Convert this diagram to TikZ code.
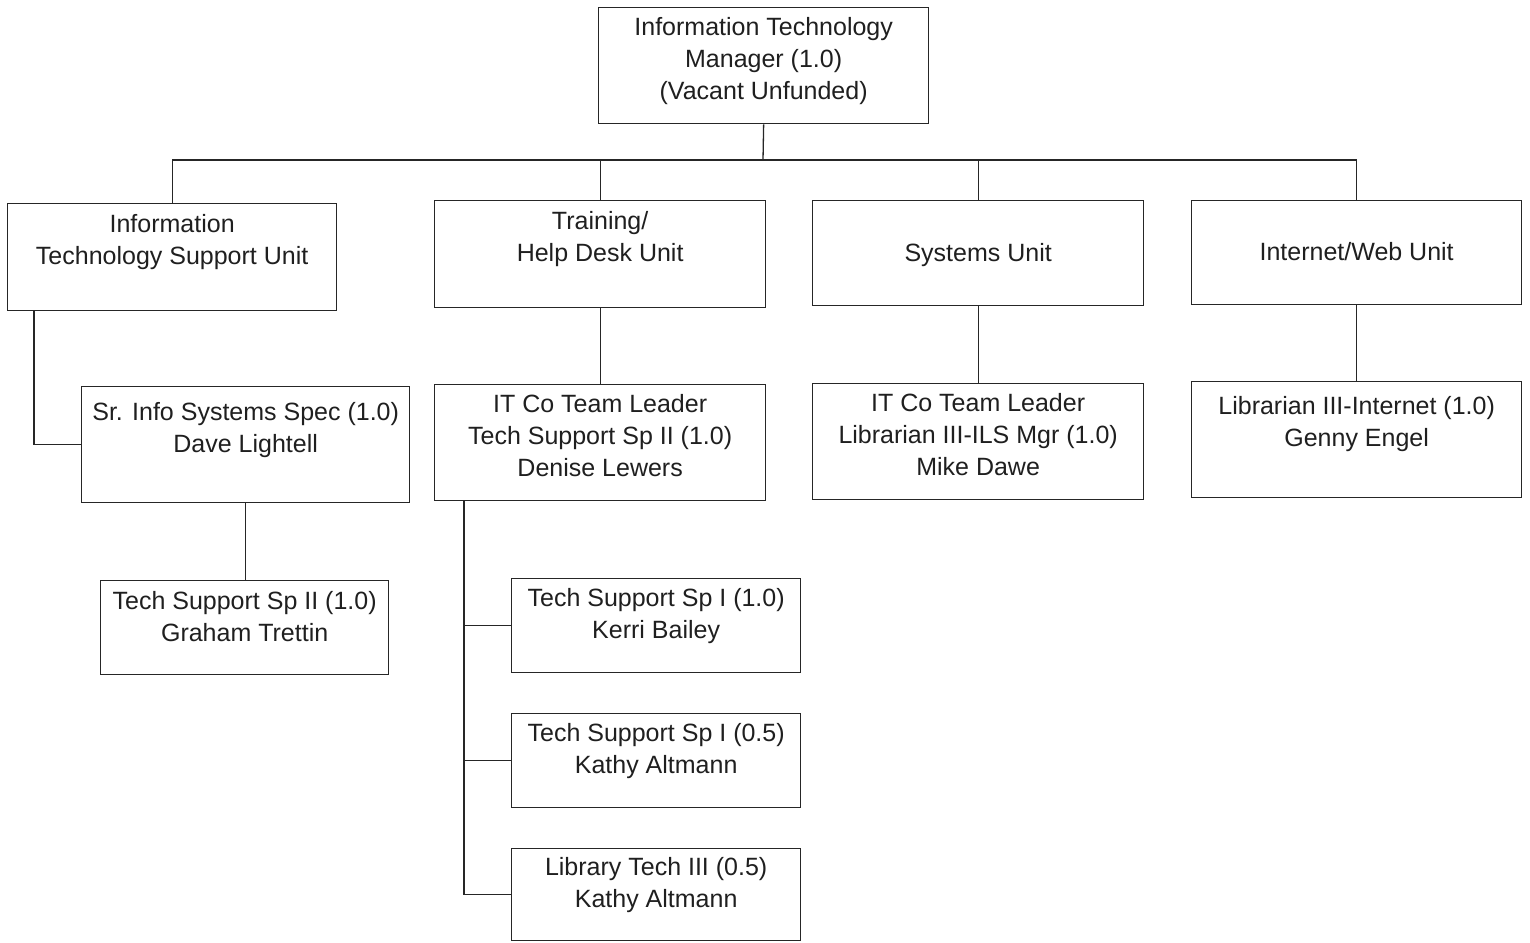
\documentclass[tikz,border=0pt]{standalone}
\usepackage{fontspec}
\setmainfont{Liberation Sans}
\begin{document}
\begin{tikzpicture}[x=1pt,y=-1pt,
  box/.style={draw=black!85, line width=1.3pt, rectangle, inner sep=0pt, anchor=north west},
  txt/.style={anchor=north, align=center, inner sep=0pt, text=black!88,
    font=\fontsize{25}{32}\selectfont, execute at begin node={\rule{0pt}{19pt}}},
  conn/.style={draw=black!85, line width=1.3pt}]
\useasboundingbox (0,0) rectangle (1530,942);
% boxes
\node[box, minimum width=330, minimum height=116] (t) at (598,7) {};
\node[box, minimum width=329, minimum height=107] (b1) at (7,203) {};
\node[box, minimum width=331, minimum height=107] (b2) at (434,200) {};
\node[box, minimum width=331, minimum height=105] (b3) at (812,200) {};
\node[box, minimum width=330, minimum height=104] (b4) at (1191,200) {};
\node[box, minimum width=328, minimum height=116] (c1) at (81,386) {};
\node[box, minimum width=288, minimum height=94] (d1) at (100,580) {};
\node[box, minimum width=331, minimum height=116] (c2) at (434,384) {};
\node[box, minimum width=289, minimum height=94] (e1) at (511,578) {};
\node[box, minimum width=289, minimum height=94] (e2) at (511,713) {};
\node[box, minimum width=289, minimum height=92] (e3) at (511,848) {};
\node[box, minimum width=331, minimum height=116] (c3) at (812,383) {};
\node[box, minimum width=330, minimum height=116] (c4) at (1191,381) {};
% texts
\node[txt] (tt) at (t.north |- 0,17) {Information Technology\\Manager (1.0)\\(Vacant Unfunded)};
\node[txt] (tb1) at (b1.north |- 0,214) {Information\\Technology Support Unit};
\node[txt] (tb2) at (b2.north |- 0,211) {Training/\\Help Desk Unit};
\node[txt] (tb3) at (b3.north |- 0,242) {Systems Unit};
\node[txt] (tb4) at (b4.north |- 0,241) {Internet/Web Unit};
\node[txt] (tc1) at (c1.north |- 0,402) {Sr. Info Systems Spec (1.0)\\Dave Lightell};
\node[txt] (td1) at (d1.north |- 0,591) {Tech Support Sp II (1.0)\\Graham Trettin};
\node[txt] (tc2) at (c2.north |- 0,394) {IT Co Team Leader\\Tech Support Sp II (1.0)\\Denise Lewers};
\node[txt] (te1) at (e1.north |- 0,588) {Tech Support Sp I (1.0)\\Kerri Bailey};
\node[txt] (te2) at (e2.north |- 0,723) {Tech Support Sp I (0.5)\\Kathy Altmann};
\node[txt] (te3) at (e3.north |- 0,857) {Library Tech III (0.5)\\Kathy Altmann};
\node[txt] (tc3) at (c3.north |- 0,393) {IT Co Team Leader\\Librarian III-ILS Mgr (1.0)\\Mike Dawe};
\node[txt] (tc4) at (c4.north |- 0,396) {Librarian III-Internet (1.0)\\Genny Engel};
% connectors
\coordinate (bus) at (763,160);
\draw[conn] (t.south) -- (bus);
\draw[conn] (b1.north) |- (bus);
\draw[conn] (b4.north) |- (bus);
\draw[conn] (b2.north) -- (b2.north |- bus);
\draw[conn] (b3.north) -- (b3.north |- bus);
\draw[conn] ([xshift=27pt]b1.south west) |- (c1.west);
\draw[conn] (c1.south) -- (c1.south |- d1.north);
\draw[conn] (b2.south) -- (c2.north);
\draw[conn] (b3.south) -- (c3.north);
\draw[conn] (b4.south) -- (c4.north);
\draw[conn] ([xshift=30pt]c2.south west) |- (e3.west);
\draw[conn] ([xshift=30pt]c2.south west) |- (e1.west);
\draw[conn] ([xshift=30pt]c2.south west) |- (e2.west);
\end{tikzpicture}
\end{document}
